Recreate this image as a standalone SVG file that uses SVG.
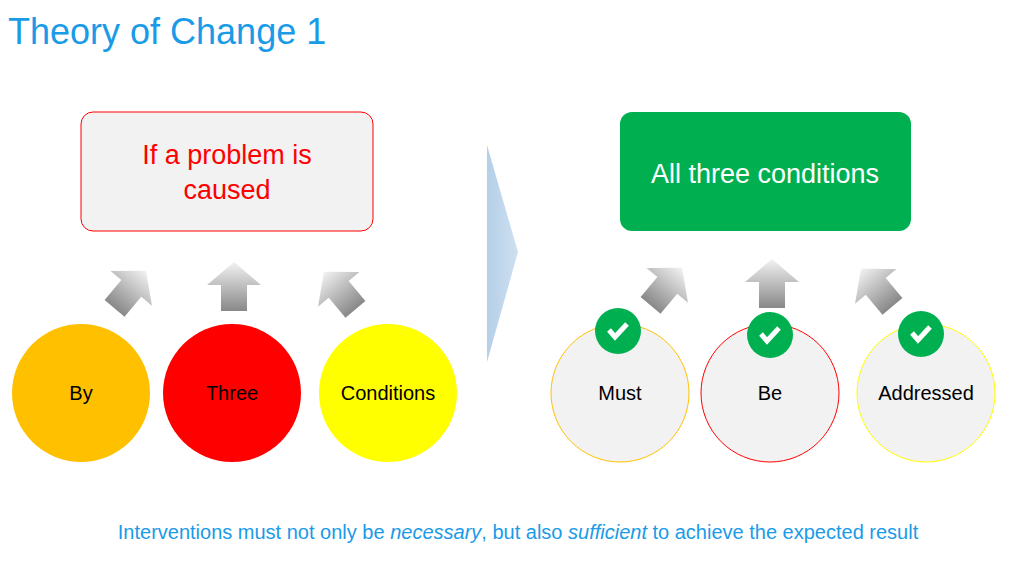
<svg xmlns="http://www.w3.org/2000/svg" width="1024" height="576" viewBox="0 0 1024 576">
<style>
text{font-family:"Liberation Sans",Arial,sans-serif}
.lbl{font-size:20px;fill:#000;text-anchor:middle}
.chk{fill:#00b050}
</style>
<defs>
<linearGradient id="ag" x1="0" y1="0" x2="0" y2="1"><stop offset="0" stop-color="#f2f2f2"/><stop offset="1" stop-color="#888"/></linearGradient>
<linearGradient id="cg" x1="0" y1="0" x2="1" y2="0"><stop offset="0" stop-color="#b4cfe8"/><stop offset="1" stop-color="#cfe0f0"/></linearGradient>
<path id="arr" d="M0,-25 L27,-2 L13,-2 L13,24 L-13,24 L-13,-2 L-27,-2 Z" fill="url(#ag)"/>
<g id="tick"><path d="M-9,-1 L-3,6 L9,-7" fill="none" stroke="#fff" stroke-width="5" stroke-linejoin="miter"/></g>
</defs>
<rect width="1024" height="576" fill="#fff"/>
<text x="8" y="44" font-size="36" fill="#1a9be8">Theory of Change 1</text>
<g id="box1"><rect x="81" y="112" width="292" height="119" rx="12" fill="#f2f2f2" stroke="#ff0000"/>
<text x="227" y="164" font-size="27" fill="#ff0000" text-anchor="middle">If a problem is</text>
<text x="227" y="199" font-size="27" fill="#ff0000" text-anchor="middle">caused</text></g>
<g id="box2"><rect x="620" y="112" width="291" height="119" rx="12" fill="#00b050"/>
<text x="765" y="183" font-size="27" fill="#fff" text-anchor="middle">All three conditions</text></g>
<g id="chevron"><polygon points="487,145 518,252 487,362" fill="url(#cg)"/></g>
<g id="connectors">
<use href="#arr" transform="translate(130,290) rotate(40)"/>
<use href="#arr" transform="translate(234,287)"/>
<use href="#arr" transform="translate(340,291) rotate(-40)"/>
<use href="#arr" transform="translate(666,287) rotate(40)"/>
<use href="#arr" transform="translate(772,284)"/>
<use href="#arr" transform="translate(877,288) rotate(-40)"/>
</g>
<g id="n1"><circle cx="81" cy="393" r="69" fill="#ffc000"/><text class="lbl" x="81" y="400">By</text></g>
<g id="n2"><circle cx="232" cy="393" r="69" fill="#ff0000"/><text class="lbl" x="232" y="400">Three</text></g>
<g id="n3"><circle cx="388" cy="393" r="69" fill="#ffff00"/><text class="lbl" x="388" y="400">Conditions</text></g>
<g id="n4"><circle cx="620" cy="393" r="69" fill="#f2f2f2" stroke="#ffc000"/><text class="lbl" x="620" y="400">Must</text>
<circle class="chk" cx="618" cy="331" r="23"/><use href="#tick" transform="translate(618,331)"/></g>
<g id="n5"><circle cx="770" cy="393" r="69" fill="#f2f2f2" stroke="#ff0000"/><text class="lbl" x="770" y="400">Be</text>
<circle class="chk" cx="770" cy="335" r="23"/><use href="#tick" transform="translate(770,335)"/></g>
<g id="n6"><circle cx="926" cy="393" r="69" fill="#f2f2f2" stroke="#ffff00"/><text class="lbl" x="926" y="400">Addressed</text>
<circle class="chk" cx="921" cy="334" r="23"/><use href="#tick" transform="translate(921,334)"/></g>
<text x="518" y="539" font-size="20" fill="#1a9be8" text-anchor="middle">Interventions must not only be <tspan font-style="italic">necessary</tspan>, but also <tspan font-style="italic">sufficient</tspan>  to achieve the expected result</text>
</svg>
